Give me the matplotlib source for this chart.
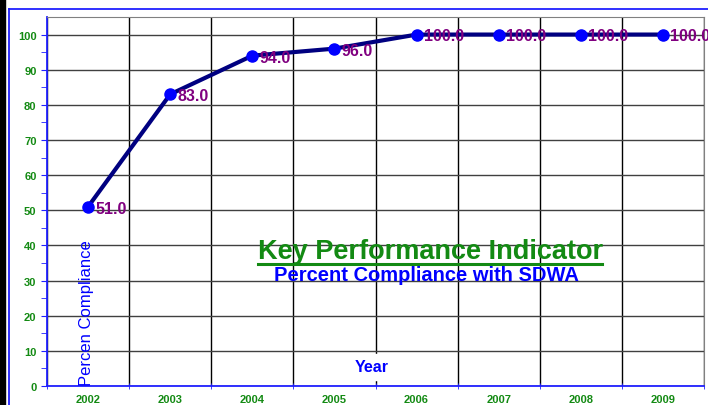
import numpy as np
import matplotlib.pyplot as plt
from matplotlib.patches import Rectangle

years = ["2002", "2003", "2004", "2005", "2006", "2007", "2008", "2009"]
compliance = [51.0, 83.0, 94.0, 96.0, 100.0, 100.0, 100.0, 100.0]

plt.rcParams['font.family'] = ['Liberation Sans', 'DejaVu Sans']

fig = plt.figure(figsize=(7.08, 4.06), dpi=100)
W, H = 708, 406

# black strip and blue frame on the left
fig.patches.append(Rectangle((0, 0), 5/W, 1, transform=fig.transFigure,
                             color='black', zorder=0))
fig.add_artist(plt.Line2D([8.5/W, 8.5/W], [0, 1 - 10/H], color='#2020ff', lw=1.3))
fig.add_artist(plt.Line2D([8.5/W, 1], [1 - 10/H, 1 - 10/H], color='#2020ff', lw=1.3))

ax = fig.add_axes([47/W, 19/H, 657/W, 369/H])
x = np.arange(len(years))
ax.plot(x, compliance, color='#000080', lw=3, zorder=3)
ax.plot(x, compliance, 'o', color='#0000ff', ms=8, zorder=4)
for xi, v in zip(x, compliance):
    ax.annotate(f"{v:.1f}", (xi, v), xytext=(5, -1), textcoords='offset points',
                va='center', ha='left', color='#800080', fontsize=11.5,
                fontweight='bold', zorder=5)

ax.set_xlim(-0.5, len(years) - 0.5)
ax.set_ylim(0, 105)
ax.set_xticks(x)
ax.set_xticklabels(years)
ax.set_xticks(np.arange(-0.5, len(years)), minor=True)
ax.set_yticks(np.arange(0, 101, 10))
ax.set_yticks(np.arange(5, 101, 10), minor=True)
ax.tick_params(axis='x', which='major', length=0, pad=6, labelsize=8, labelcolor='#138a13')
ax.tick_params(axis='x', which='minor', length=4, color='#2020ff', direction='inout')
ax.tick_params(axis='y', which='both', length=4, color='#2020ff', labelsize=8,
               labelcolor='#138a13')
for lab in ax.get_xticklabels() + ax.get_yticklabels():
    lab.set_fontweight('bold')

ax.grid(True, axis='y', which='major', color='#404040', lw=1)
ax.grid(True, axis='x', which='minor', color='black', lw=1)
ax.set_axisbelow(True)
ax.spines['left'].set_color('#2020ff')
ax.spines['bottom'].set_color('#2020ff')
ax.spines['top'].set_color('#808080')
ax.spines['right'].set_color('#808080')
ax.spines['left'].set_linewidth(1.3)
ax.spines['bottom'].set_linewidth(1.3)

ax.text(-0.02, 0.2, "Percen Compliance", rotation=90, color='#0000ff',
        fontsize=12, ha='center', va='bottom', transform=ax.transData)
ax.text(3.45, 3.3, "Year", color='#0000ff', fontsize=11.5, fontweight='bold',
        ha='center', va='bottom', backgroundcolor='white', zorder=6)
ax.text(4.17, 38.3, "Key Performance Indicator", color='#138a13', fontsize=19.5,
        fontweight='bold', ha='center', va='center')
ax.plot([2.07, 6.26], [34.8, 34.8], color='#138a13', lw=2.2)
ax.text(4.12, 31.8, "Percent Compliance with SDWA", color='#0000ff', fontsize=14.5,
        fontweight='bold', ha='center', va='center')

fig.savefig("out.png", dpi=100)
